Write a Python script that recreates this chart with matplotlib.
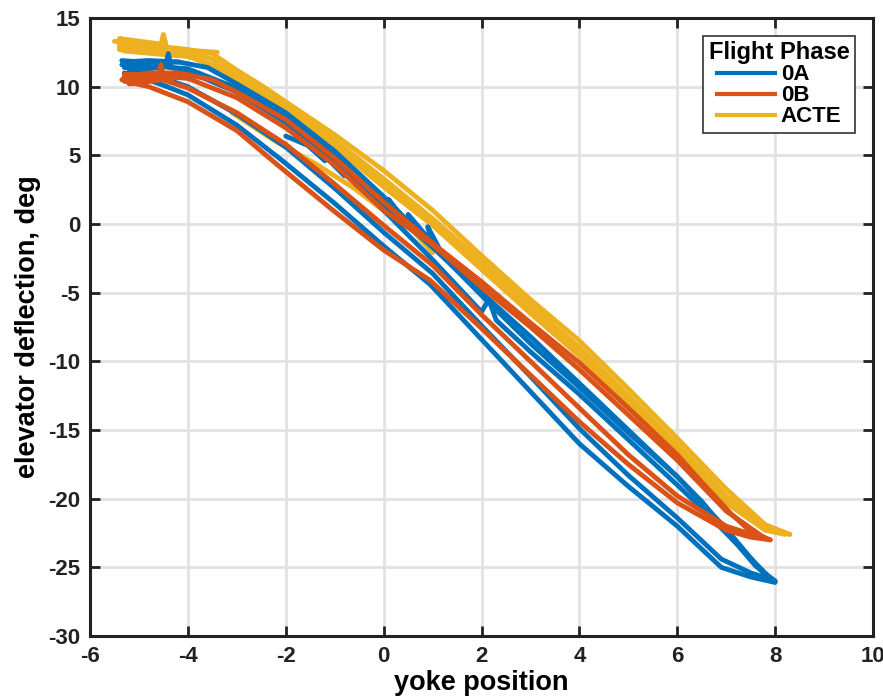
import matplotlib
matplotlib.use("Agg")
import matplotlib.pyplot as plt
from matplotlib.lines import Line2D

plt.rcParams['font.family'] = ['Liberation Sans', 'DejaVu Sans']
plt.rcParams['font.weight'] = 'bold'
plt.rcParams['axes.unicode_minus'] = False

# flight phase 0A (blue) - each inner list is one pass of the stick
oa_x = [
    [-5.3, -4.9, -4.5, -4.0, -3.0, -2.1, -1.0, 0.0, 0.95, 2.0, 3.0, 4.0, 5.0, 6.0, 6.9, 7.5, 8.0],
    [-5.2, -4.5, -4.0, -3.0, -2.0, -1.0, 0.0, 1.0, 2.0, 3.0, 4.0, 5.0, 6.0, 6.9, 7.5, 8.0],
    [8.0, 7.6, 7.1, 6.5, 6.0, 5.0, 4.0, 3.0, 2.4, 2.0, 1.0, 0.0, -1.0, -2.0, -3.0, -3.6, -4.2, -4.8, -5.3],
    [7.9, 7.3, 6.5, 6.0, 5.0, 4.0, 3.0, 2.3, 2.15, 2.0, 1.0, 0.0, -1.0, -2.0, -3.0, -4.0, -4.6, -5.3],
    [7.8, 7.0, 6.0, 5.0, 4.0, 3.0, 2.0, 1.0, 0.0, -1.0, -2.0, -3.0, -4.0, -5.0, -5.3],
    [-2.0, -1.6, -1.7, -1.2, -1.3, -0.8, -0.9, -0.3, -0.4, 0.2, 0.1, 0.6, 0.5, 1.0, 0.9, 1.2],
    [-5.35, -4.6, -5.3, -4.4, -5.2, -4.45, -4.4, -4.35, -5.35, -4.2],
]
oa_y = [
    [11.0, 10.6, 10.1, 9.4, 7.2, 4.7, 1.5, -1.6, -4.4, -8.4, -12.2, -16.0, -19.1, -22.0, -25.0, -25.7, -26.1],
    [11.3, 10.6, 10.0, 8.0, 5.6, 2.6, -0.6, -3.6, -7.4, -11.1, -14.9, -18.3, -21.4, -24.4, -25.4, -26.0],
    [-26.0, -24.9, -22.8, -20.2, -18.4, -15.2, -11.9, -8.7, -6.6, -5.2, -1.6, 2.0, 5.3, 8.1, 10.2, 11.4, 11.8, 11.9, 11.8],
    [-25.8, -23.6, -20.7, -19.0, -15.7, -12.4, -9.3, -7.0, -5.5, -6.4, -2.6, 1.0, 4.5, 7.4, 9.6, 11.1, 11.6, 11.5],
    [-25.6, -22.2, -18.4, -15.0, -11.6, -8.2, -5.0, -1.7, 1.4, 4.9, 7.8, 9.9, 11.3, 11.6, 11.5],
    [6.4, 5.8, 6.2, 4.6, 5.3, 3.5, 4.4, 2.3, 3.2, 0.9, 1.8, -0.5, 0.7, -1.4, -0.2, -2.2],
    [11.9, 11.7, 11.4, 11.5, 11.1, 11.6, 12.4, 11.6, 11.6, 11.8],
]

# flight phase 0B (orange)
ob_x = [
    [-5.3, -4.8, -4.0, -3.0, -2.1, -1.0, 0.0, 0.95, 2.0, 3.0, 4.0, 5.0, 6.0, 7.0, 7.5, 7.9],
    [7.9, 7.5, 7.1, 6.5, 6.0, 5.0, 4.0, 3.0, 2.0, 1.0, 0.0, -1.0, -2.0, -3.0, -3.5, -4.2, -4.8, -5.3],
    [-4.6, -4.0, -3.0, -2.0, -1.0, 0.0, 1.0, 2.0, 3.0, 4.0, 5.0, 6.0, 7.0, 7.6],
    [7.8, 7.0, 6.0, 5.0, 4.0, 3.0, 2.0, 1.0, 0.0, -1.0, -2.0, -3.0, -4.0, -5.0, -5.3],
    [-5.3, -4.5, -5.35, -4.3, -5.2, -4.6, -4.55, -4.5, -5.3, -4.0],
]
ob_y = [
    [10.4, 10.0, 8.9, 6.8, 4.1, 0.9, -1.9, -4.1, -7.6, -11.0, -14.4, -17.5, -20.3, -22.3, -22.8, -23.0],
    [-23.0, -22.4, -21.1, -18.8, -16.8, -13.4, -10.1, -7.2, -4.2, -1.4, 1.6, 4.8, 7.6, 9.6, 10.5, 11.0, 11.0, 10.7],
    [10.6, 9.9, 8.1, 5.8, 2.9, -0.1, -3.0, -6.6, -10.0, -13.4, -16.8, -19.8, -22.0, -22.7],
    [-22.9, -20.9, -17.2, -13.9, -10.6, -7.5, -4.6, -1.5, 1.0, 4.3, 7.0, 9.2, 10.6, 10.9, 10.6],
    [10.9, 10.8, 10.5, 10.6, 10.2, 10.8, 11.6, 10.8, 10.7, 10.9],
]

# ACTE (yellow)
acte_x = [
    [-5.4, -5.0, -4.5, -4.0, -3.5, -3.0, -2.5, -2.0, -1.0, 0.0, 1.0, 2.0, 3.0, 4.0, 5.0, 6.0, 7.0, 7.8, 8.3],
    [8.3, 7.8, 7.0, 6.0, 5.0, 4.0, 3.0, 2.0, 1.0, 0.0, -1.0, -2.0, -2.5, -3.0, -3.5, -4.0, -4.5, -5.0, -5.4],
    [-5.3, -4.7, -4.0, -3.5, -3.0, -2.5, -2.0, -1.0, 0.0, 1.0, 2.0, 3.0, 4.0, 5.0, 6.0, 7.0, 7.8, 8.2],
    [8.2, 7.5, 7.0, 6.0, 5.0, 4.0, 3.0, 2.0, 1.0, 0.0, -1.0, -2.0, -3.0, -4.0, -5.0, -5.4],
    [-3.1, -2.2, -1.4, -0.6, 0.1, 0.6, 1.0],
    [-5.5, -4.8, -5.3, -4.6, -5.4, -4.55, -4.5, -4.45, -5.1, -4.2, -3.8, -3.4],
]
acte_y = [
    [13.1, 13.0, 12.9, 12.7, 12.4, 11.2, 10.1, 8.9, 6.5, 3.9, 1.0, -2.3, -5.5, -8.5, -12.0, -15.6, -19.3, -21.9, -22.6],
    [-22.6, -22.2, -19.8, -16.1, -12.5, -9.0, -5.9, -2.7, 0.4, 3.3, 6.1, 8.6, 9.7, 10.8, 12.0, 12.5, 12.7, 12.8, 12.9],
    [12.6, 12.4, 12.2, 11.6, 10.4, 9.3, 8.3, 5.6, 2.7, -0.1, -3.3, -6.5, -9.6, -13.1, -16.7, -20.3, -22.3, -22.6],
    [-22.5, -21.5, -20.1, -16.5, -12.9, -9.3, -6.2, -3.0, 0.2, 3.0, 5.8, 8.4, 10.6, 12.3, 12.6, 12.7],
    [8.1, 6.0, 4.4, 2.6, 0.7, -0.5, -2.1],
    [13.3, 13.1, 12.9, 12.8, 13.5, 13.1, 13.8, 13.1, 12.6, 12.7, 12.6, 12.5],
]

phase_names = ['0A', '0B', 'ACTE']
phase_colors = ['#0072BD', '#D95319', '#EDB120']

fig = plt.figure(figsize=(8.83, 6.99), dpi=100)
ax = fig.add_axes([90/883, 63/699, 783/883, 618/699])

lw = 3.5
for xs, ys in zip(acte_x, acte_y):
    ax.plot(xs, ys, color=phase_colors[2], lw=lw, solid_joinstyle='round', solid_capstyle='round', zorder=2)
for xs, ys in zip(oa_x, oa_y):
    ax.plot(xs, ys, color=phase_colors[0], lw=lw, solid_joinstyle='round', solid_capstyle='round', zorder=3)
for xs, ys in zip(ob_x, ob_y):
    ax.plot(xs, ys, color=phase_colors[1], lw=lw, solid_joinstyle='round', solid_capstyle='round', zorder=4)

ax.set_xlim(-6, 10)
ax.set_ylim(-30, 15)
ax.set_xticks(range(-6, 11, 2))
ax.set_yticks(range(-30, 16, 5))
ax.grid(True, color='#e2e2e2', lw=2)
ax.set_axisbelow(True)
ax.tick_params(direction='in', length=7, width=2, labelsize=16, pad=7,
               top=True, right=True, colors='#222222')
for s in ax.spines.values():
    s.set_linewidth(2.2)
    s.set_color('#222222')

ax.set_xlabel('yoke position', fontsize=19.5, fontweight='bold', labelpad=2)
ax.set_ylabel('elevator deflection, deg', fontsize=19.5, fontweight='bold', labelpad=5)

handles = [Line2D([0], [0], color=c, lw=3) for c in phase_colors]
leg = ax.legend(handles, phase_names, title='Flight Phase', loc='upper right',
                fontsize=16, title_fontproperties={'size': 17, 'weight': 'bold'},
                handlelength=2.6, handletextpad=0.25, labelspacing=0.0,
                borderpad=0.25, borderaxespad=0.8, fancybox=False, framealpha=1)
leg.get_frame().set_edgecolor('#333333')
leg.get_frame().set_linewidth(1.2)

fig.savefig('out.png', dpi=100)
